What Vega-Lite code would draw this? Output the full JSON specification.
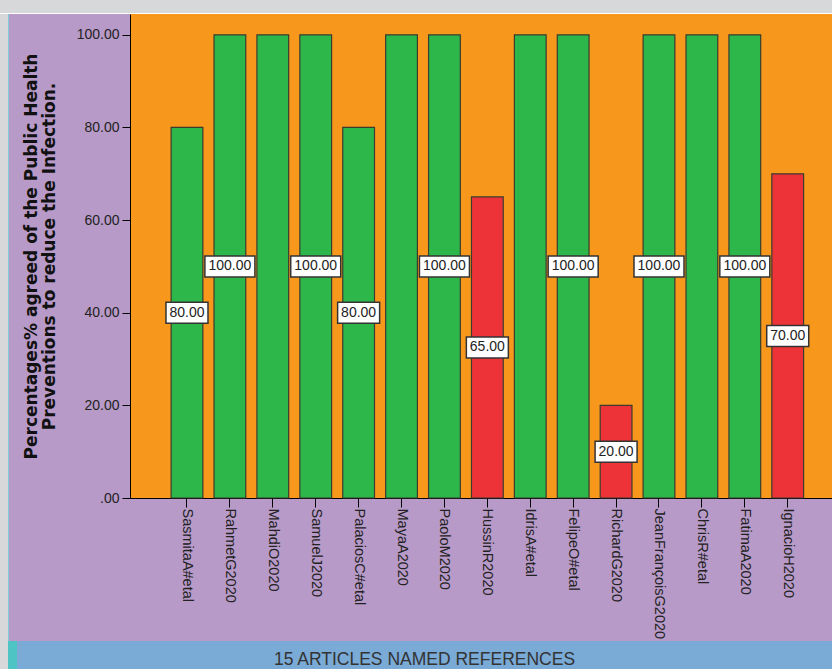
{
  "$schema": "https://vega.github.io/schema/vega-lite/v6.json",
  "background": "#B89AC8",
  "padding": 0,
  "spacing": 0,
  "config": {"view": {"stroke": null}, "concat": {"spacing": 0}},
  "vconcat": [
    {"width": 832, "height": 13, "view": {"fill": "#D7D8DA", "stroke": null}, "data": {"values": [{}]}, "mark": {"type": "point", "opacity": 0, "size": 0, "strokeWidth": 0}, "encoding": {}},
    {"width": 832, "height": 1, "view": {"fill": "#FFFFFF", "stroke": null}, "data": {"values": [{}]}, "mark": {"type": "point", "opacity": 0, "size": 0, "strokeWidth": 0}, "encoding": {}},
    {
      "spacing": 0,
      "hconcat": [
        {"width": 8, "height": 627, "view": {"fill": "#D7D8DA", "stroke": null}, "data": {"values": [{}]}, "mark": {"type": "point", "opacity": 0, "size": 0, "strokeWidth": 0}, "encoding": {}},
        {"width": 1, "height": 627, "view": {"fill": "#7DCFD3", "stroke": null}, "data": {"values": [{}]}, "mark": {"type": "point", "opacity": 0, "size": 0, "strokeWidth": 0}, "encoding": {}},
        {"width": 13, "height": 627, "view": {"stroke": null}, "data": {"values": [{}]}, "mark": {"type": "point", "opacity": 0, "size": 0, "strokeWidth": 0}, "encoding": {}},
        {
          "width": 703,
          "height": 484,
          "view": {"fill": "#F7981D", "stroke": null},
          "data": {"values": [
            {"ref": "SasmitaA#etal", "pct": 80, "label": "80.00"},
            {"ref": "RahmetG2020", "pct": 100, "label": "100.00"},
            {"ref": "MahdiO2020", "pct": 100, "label": ""},
            {"ref": "SamuelJ2020", "pct": 100, "label": "100.00"},
            {"ref": "PalaciosC#etal", "pct": 80, "label": "80.00"},
            {"ref": "MayaA2020", "pct": 100, "label": ""},
            {"ref": "PaoloM2020", "pct": 100, "label": "100.00"},
            {"ref": "HussinR2020", "pct": 65, "label": "65.00"},
            {"ref": "IdrisA#etal", "pct": 100, "label": ""},
            {"ref": "FelipeO#etal", "pct": 100, "label": "100.00"},
            {"ref": "RichardG2020", "pct": 20, "label": "20.00"},
            {"ref": "JeanFrançoisG2020", "pct": 100, "label": "100.00"},
            {"ref": "ChrisR#etal", "pct": 100, "label": ""},
            {"ref": "FatimaA2020", "pct": 100, "label": "100.00"},
            {"ref": "IgnacioH2020", "pct": 70, "label": "70.00"}
          ]},
          "layer": [
            {
              "mark": {"type": "bar", "stroke": "#3B3B2E", "strokeWidth": 1.2},
              "encoding": {
                "x": {
                  "field": "ref", "type": "nominal", "sort": null,
                  "scale": {
                    "domain": ["SasmitaA#etal", "RahmetG2020", "MahdiO2020", "SamuelJ2020", "PalaciosC#etal", "MayaA2020", "PaoloM2020", "HussinR2020", "IdrisA#etal", "FelipeO#etal", "RichardG2020", "JeanFrançoisG2020", "ChrisR#etal", "FatimaA2020", "IgnacioH2020"],
                    "paddingInner": 0.26, "paddingOuter": 0.8217, "align": 0.583
                  },
                  "axis": {
                    "title": null, "labelAngle": 90, "labelFont": "Liberation Sans", "labelFontSize": 14.5,
                    "labelColor": "#222222", "tickSize": 9, "tickColor": "#000000", "domainColor": "#000000",
                    "labelPadding": 1, "grid": false, "labelLimit": 300
                  }
                },
                "y": {
                  "field": "pct", "type": "quantitative",
                  "scale": {"domain": [0, 104.5], "nice": false},
                  "axis": {
                    "values": [0, 20, 40, 60, 80, 100],
                    "labelExpr": "datum.value == 0 ? '.00' : format(datum.value, '.2f')",
                    "title": ["Percentages% agreed of the Public Health", "Preventions to reduce the Infection."],
                    "titleFont": "DejaVu Sans", "titleFontSize": 17, "titleFontWeight": "bold", "titleColor": "#111111",
                    "titleLineHeight": 18, "titlePadding": 18,
                    "labelFont": "Liberation Sans", "labelFontSize": 14, "labelColor": "#222222",
                    "tickSize": 8, "tickColor": "#000000", "domainColor": "#000000", "labelPadding": 3, "grid": false
                  }
                },
                "color": {"condition": {"test": "datum.pct < 75", "value": "#EE3338"}, "value": "#2DB74A"}
              }
            },
            {
              "transform": [{"filter": "datum.label != ''"}],
              "encoding": {
                "x": {"field": "ref", "type": "nominal", "sort": null},
                "y": {"field": "pct", "type": "quantitative", "scale": {"domain": [0, 209], "nice": false}, "axis": null}
              },
              "layer": [
                {
                  "mark": {"type": "point", "filled": true, "fill": "#FFFFFF", "stroke": "#333333", "strokeWidth": 1.5, "opacity": 1, "size": 2500},
                  "encoding": {
                    "shape": {"condition": {"test": "datum.pct >= 100", "value": "M-1,-0.42H1V0.42H-1Z"}, "value": "M-0.84,-0.42H0.84V0.42H-0.84Z"}
                  }
                },
                {
                  "mark": {"type": "text", "font": "Liberation Sans", "fontSize": 14, "color": "#222222"},
                  "encoding": {"text": {"field": "label", "type": "nominal"}}
                }
              ]
            }
          ],
          "resolve": {"scale": {"y": "independent"}}
        }
      ]
    },
    {
      "spacing": 0,
      "hconcat": [
        {"width": 8, "height": 28, "view": {"fill": "#D7D8DA", "stroke": null}, "data": {"values": [{}]}, "mark": {"type": "point", "opacity": 0, "size": 0, "strokeWidth": 0}, "encoding": {}},
        {"width": 9, "height": 28, "view": {"fill": "#4FC4C4", "stroke": null}, "data": {"values": [{}]}, "mark": {"type": "point", "opacity": 0, "size": 0, "strokeWidth": 0}, "encoding": {}},
        {
          "width": 815, "height": 28,
          "view": {"fill": "#7AAAD6", "stroke": null},
          "data": {"values": [{"t": "15 ARTICLES NAMED REFERENCES"}]},
          "mark": {"type": "text", "font": "Liberation Sans", "fontSize": 17.5, "color": "#333333", "baseline": "middle", "dy": 5},
          "encoding": {"text": {"field": "t", "type": "nominal"}}
        }
      ]
    }
  ]
}
